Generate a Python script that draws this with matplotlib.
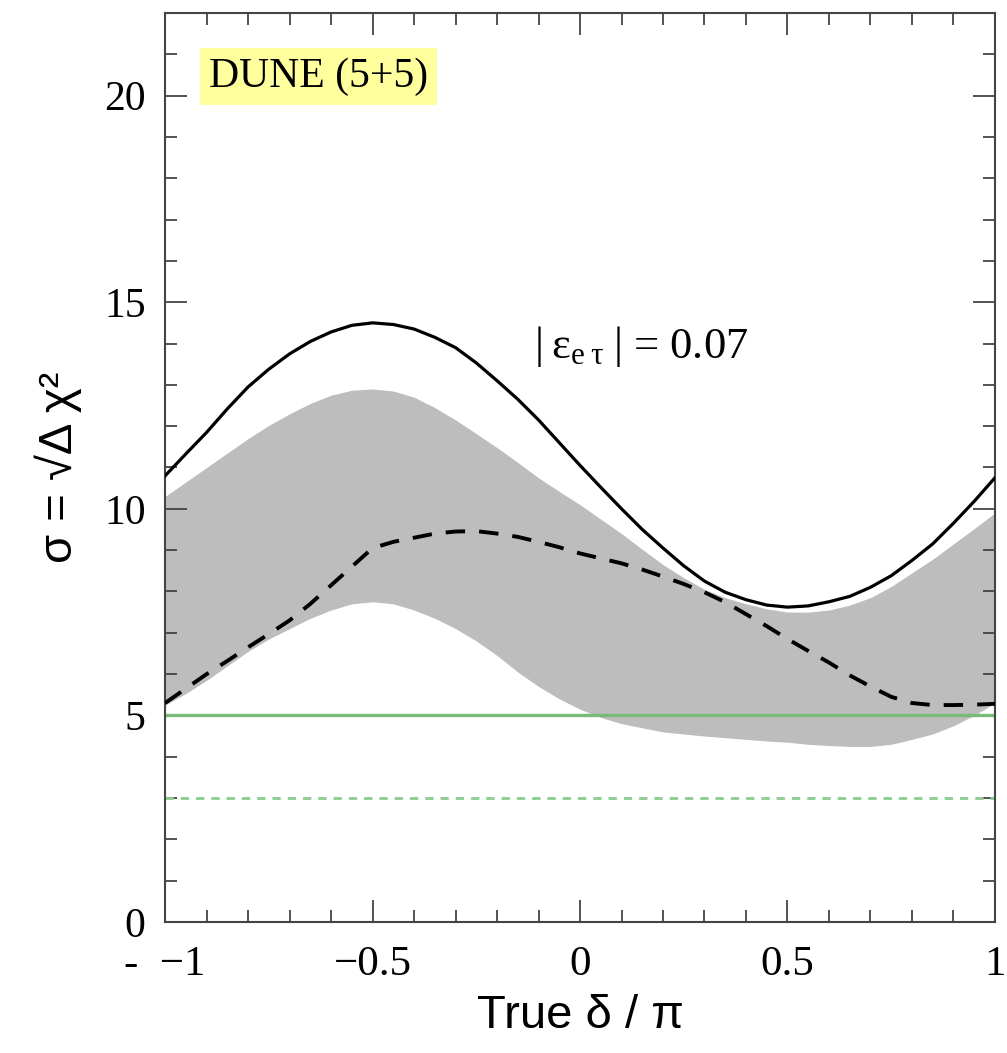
import numpy as np
import matplotlib
matplotlib.use("Agg")
from matplotlib import pyplot as plt
from matplotlib.ticker import MultipleLocator

# true delta / pi, in steps of 0.05
delta = [-1.0, -0.95, -0.9, -0.85, -0.8, -0.75, -0.7, -0.65, -0.6, -0.55, -0.5,
         -0.45, -0.4, -0.35, -0.3, -0.25, -0.2, -0.15, -0.1, -0.05, 0.0,
         0.05, 0.1, 0.15, 0.2, 0.25, 0.3, 0.35, 0.4, 0.45, 0.5,
         0.55, 0.6, 0.65, 0.7, 0.75, 0.8, 0.85, 0.9, 0.95, 1.0]

# solid black curve
sigma_solid = [10.8, 11.33, 11.85, 12.42, 12.95, 13.38, 13.75, 14.05, 14.28, 14.44, 14.5,
               14.46, 14.35, 14.15, 13.9, 13.53, 13.1, 12.65, 12.15, 11.6, 11.05,
               10.52, 10.0, 9.5, 9.05, 8.62, 8.25, 7.98, 7.8, 7.67, 7.62,
               7.65, 7.75, 7.88, 8.1, 8.38, 8.75, 9.15, 9.65, 10.18, 10.75]

# dashed black curve
sigma_dashed = [5.3, 5.65, 6.0, 6.32, 6.65, 6.97, 7.3, 7.7, 8.15, 8.6, 9.05,
                9.2, 9.3, 9.4, 9.45, 9.46, 9.4, 9.32, 9.2, 9.07, 8.92,
                8.8, 8.68, 8.53, 8.36, 8.18, 7.98, 7.74, 7.45, 7.16, 6.85,
                6.56, 6.28, 5.97, 5.7, 5.45, 5.3, 5.25, 5.25, 5.26, 5.28]

# gray band
band_upper = [10.3, 10.65, 11.0, 11.35, 11.7, 12.02, 12.3, 12.55, 12.75, 12.87, 12.9,
              12.85, 12.7, 12.45, 12.15, 11.82, 11.48, 11.12, 10.75, 10.42, 10.1,
              9.75, 9.4, 9.02, 8.65, 8.33, 8.05, 7.85, 7.7, 7.58, 7.5,
              7.5, 7.55, 7.67, 7.85, 8.12, 8.45, 8.78, 9.15, 9.52, 9.9]
band_lower = [5.25, 5.53, 5.85, 6.2, 6.55, 6.85, 7.1, 7.35, 7.55, 7.7, 7.75,
              7.7, 7.55, 7.35, 7.1, 6.8, 6.45, 6.05, 5.7, 5.4, 5.15,
              4.95, 4.8, 4.7, 4.6, 4.55, 4.5, 4.46, 4.42, 4.38, 4.35,
              4.3, 4.27, 4.25, 4.25, 4.3, 4.42, 4.55, 4.75, 5.0, 5.3]

# reference significance levels
level_5 = 5
level_3 = 3

xticks = [-1, -0.5, 0, 0.5, 1]
xticklabels = ["-  \u22121", "\u22120.5", "0", "0.5", "1"]
yticks = [0, 5, 10, 15, 20]

serif = "Liberation Serif"
sans = "Liberation Sans"
plt.rcParams["mathtext.fontset"] = "custom"
plt.rcParams["mathtext.rm"] = serif
plt.rcParams["mathtext.it"] = serif + ":italic"

fig = plt.figure(figsize=(10.07, 10.53), dpi=100)
ax = fig.add_axes([0.164, 0.1244, 0.824, 0.8633])

ax.fill_between(delta, band_lower, band_upper, color="#bdbdbd", lw=0, zorder=1)
ax.axhline(level_5, color="#78bb78", lw=2.4, zorder=2)
ax.axhline(level_3, color="#8ccc8c", lw=2.0, dashes=(3, 2.5), zorder=2)
ax.plot(delta, sigma_solid, color="black", lw=2.3, zorder=3)
ax.plot(delta, sigma_dashed, color="black", lw=2.8, dashes=(5, 3.6), zorder=3)

ax.set_xlim(-1, 1)
ax.set_ylim(0, 22)

ax.set_xticks(xticks)
ax.set_xticklabels(xticklabels, fontfamily=serif, fontsize=31)
ax.set_yticks(yticks)
ax.set_yticklabels([str(v) for v in yticks], fontfamily=serif, fontsize=30)
ax.xaxis.set_minor_locator(MultipleLocator(0.1))
ax.yaxis.set_minor_locator(MultipleLocator(1))
ax.tick_params(which="both", direction="in", top=True, right=True, color="#444444")
ax.tick_params(which="major", length=16, width=1.3)
ax.tick_params(which="minor", length=8.5, width=1.3)
ax.tick_params(axis="x", which="major", pad=17)
ax.tick_params(axis="y", which="major", pad=14)
for s in ax.spines.values():
    s.set_color("#444444")
    s.set_linewidth(1.5)

ax.set_xlabel("True \u03b4 / \u03c0", fontfamily=sans, fontsize=34, labelpad=7)
ax.set_ylabel("\u03c3 = \u221a\u0394 \u03c7\u00b2", fontfamily=sans, fontsize=34, labelpad=16)

ax.text(0.185, 0.930, "DUNE (5+5)", transform=ax.transAxes, ha="center", va="center",
        fontfamily=serif, fontsize=30,
        bbox=dict(boxstyle="square,pad=0.22", facecolor="#ffff9e", edgecolor="none"))

ax.text(-0.11, 13.93, r"$|\;\mathrm{\varepsilon}_{\mathrm{e\;\tau}}\;|$ = 0.07", ha="left", va="center",
        fontfamily=serif, fontsize=32)

fig.savefig("out.png", dpi=100)
